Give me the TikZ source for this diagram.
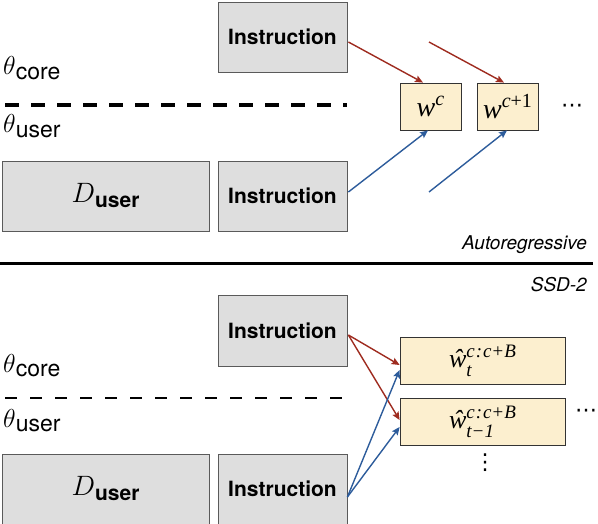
\documentclass[tikz,border=0pt]{standalone}
\usepackage{fix-cm}
\usepackage{amsmath}
\usepackage{fontspec}
\usetikzlibrary{arrows.meta,calc}
\newfontfamily\hv{TeX Gyre Heros}
\newfontfamily\tms{Liberation Serif}
\newfontfamily\djv{DejaVu Sans}
\definecolor{redarr}{HTML}{9E2B1F}
\definecolor{bluearr}{HTML}{2D5C9B}
\definecolor{grayfill}{HTML}{DEDEDE}
\definecolor{grayline}{HTML}{5A5A5A}
\definecolor{yelfill}{HTML}{FCEFCF}
\definecolor{yelline}{HTML}{333333}
\newcommand{\instr}{{\hv\bfseries\fontsize{21}{24}\selectfont Instruction}}
\newcommand{\duser}{{\fontsize{28}{30}\selectfont$D$}\raisebox{-5pt}{\hv\bfseries\fontsize{21}{24}\selectfont user}}
\newcommand{\thlab}[1]{{\fontsize{26}{28}\selectfont$\theta$}\raisebox{-5pt}{\hv\fontsize{23}{26}\selectfont #1}}
\newcommand{\wsup}[1]{{\tms\itshape\fontsize{28}{30}\selectfont w\raisebox{11pt}{\fontsize{20}{20}\selectfont #1}}}
\newcommand{\whatt}[1]{{\tms\itshape\fontsize{26}{28}\selectfont ŵ\raisebox{-9pt}{\rlap{\fontsize{19}{19}\selectfont #1}}\raisebox{10pt}{\fontsize{19}{19}\selectfont c\hspace{1pt}:\hspace{1pt}c\hspace{1pt}\upshape+\hspace{1pt}\itshape B}}}
\tikzset{
  graybox/.style={draw=grayline, fill=grayfill, line width=0.8pt, inner sep=0pt},
  yelbox/.style={draw=yelline, fill=yelfill, line width=0.8pt, inner sep=0pt, minimum height=47pt},
  redline/.style={draw=redarr, line width=1.4pt, -{Stealth[length=8pt,width=7pt,inset=1.5pt]}},
  blueline/.style={draw=bluearr, line width=1.4pt, -{Stealth[length=8pt,width=7pt,inset=1.5pt]}},
  lab/.style={inner sep=0pt, anchor=base west},
  tag/.style={inner sep=0pt, anchor=base east, font=\hv\itshape\fontsize{19}{21}\selectfont},
  dotstyle/.style={inner sep=0pt, font=\djv\fontsize{22}{24}\selectfont}
}
\begin{document}
\begin{tikzpicture}[x=1pt,y=-1pt]
\useasboundingbox (0,0) rectangle (598,524);
\clip (0,0) rectangle (598,524);
% ---------- Autoregressive (top) ----------
\node[graybox, minimum width=129pt, minimum height=70pt] (ia) at (282.5,37) {\instr};
\node[graybox, minimum width=207pt, minimum height=70pt] (da) at (105.5,196) {\duser};
\node[graybox, minimum width=129pt, minimum height=70pt] (ib) at (282.5,196) {\instr};
\node[lab] (tca) at (3,75) {\thlab{core}};
\node[lab] (tua) at (3,133) {\thlab{user}};
\coordinate (dla) at (5,105);
\coordinate (dra) at (347,105);
\draw[line width=3.5pt, dash pattern=on 14pt off 12pt] (dla) -- (dra);
\node[yelbox, minimum width=61pt] (wc) at (430.5,106.5) {\wsup{c}};
\node[yelbox, minimum width=61pt] (wc1) at (507.5,106.5) {\wsup{c\upshape+1}};
\node[dotstyle] (dotsa) at (572,108) {⋯};
\coordinate (r2) at (429,42);
\coordinate (b2) at (429,192);
\draw[redline] ($(ia.east)+(1,5)$) -- ($(wc.north)+(-7.5,0)$);
\draw[redline] (r2) -- ($(wc1.north)+(-3.5,0)$);
\draw[blueline] ($(ib.east)+(1,-4)$) -- ($(wc.south)+(-2.5,0)$);
\draw[blueline] (b2) -- ($(wc1.south)+(-0.5,0)$);
\node[tag] (ar) at (587,250) {Autoregressive};
% ---------- separator ----------
\coordinate (sl) at (0,263.5);
\coordinate (sr) at (593,263.5);
\draw[line width=3.5pt] (sl) -- (sr);
\node[tag] (ssd) at (587,292) {SSD-2};
% ---------- SSD-2 (bottom) ----------
\node[graybox, minimum width=129pt, minimum height=71pt] (ic) at (282.5,330.5) {\instr};
\node[graybox, minimum width=207pt, minimum height=70pt] (db) at (105.5,489) {\duser};
\node[graybox, minimum width=129pt, minimum height=70pt] (id) at (282.5,489) {\instr};
\node[lab] (tcb) at (3,372) {\thlab{core}};
\node[lab] (tub) at (3,427) {\thlab{user}};
\coordinate (dlb) at (5,398);
\coordinate (drb) at (347,398);
\draw[line width=2pt, dash pattern=on 12pt off 13pt] (dlb) -- (drb);
\node[yelbox, minimum width=165pt] (w1) at (482.5,360.5) {\whatt{t}};
\node[yelbox, minimum width=165pt] (w2) at (482.5,421.5) {\whatt{t−1}};
\node[dotstyle] (dotsb) at (586,413) {⋯};
\node[dotstyle] (vdots) at (485,463) {⋮};
\draw[redline] ($(ic.east)+(1,4.5)$) -- ($(w1.west)+(0,4.5)$);
\draw[redline] ($(ic.east)+(1,4.5)$) -- ($(w2.west)+(0,-1.5)$);
\draw[blueline] ($(id.east)+(0,8)$) -- ($(w1.west)+(0,9.5)$);
\draw[blueline] ($(id.east)+(0,8)$) -- ($(w2.west)+(0,5.5)$);
\end{tikzpicture}
\end{document}
